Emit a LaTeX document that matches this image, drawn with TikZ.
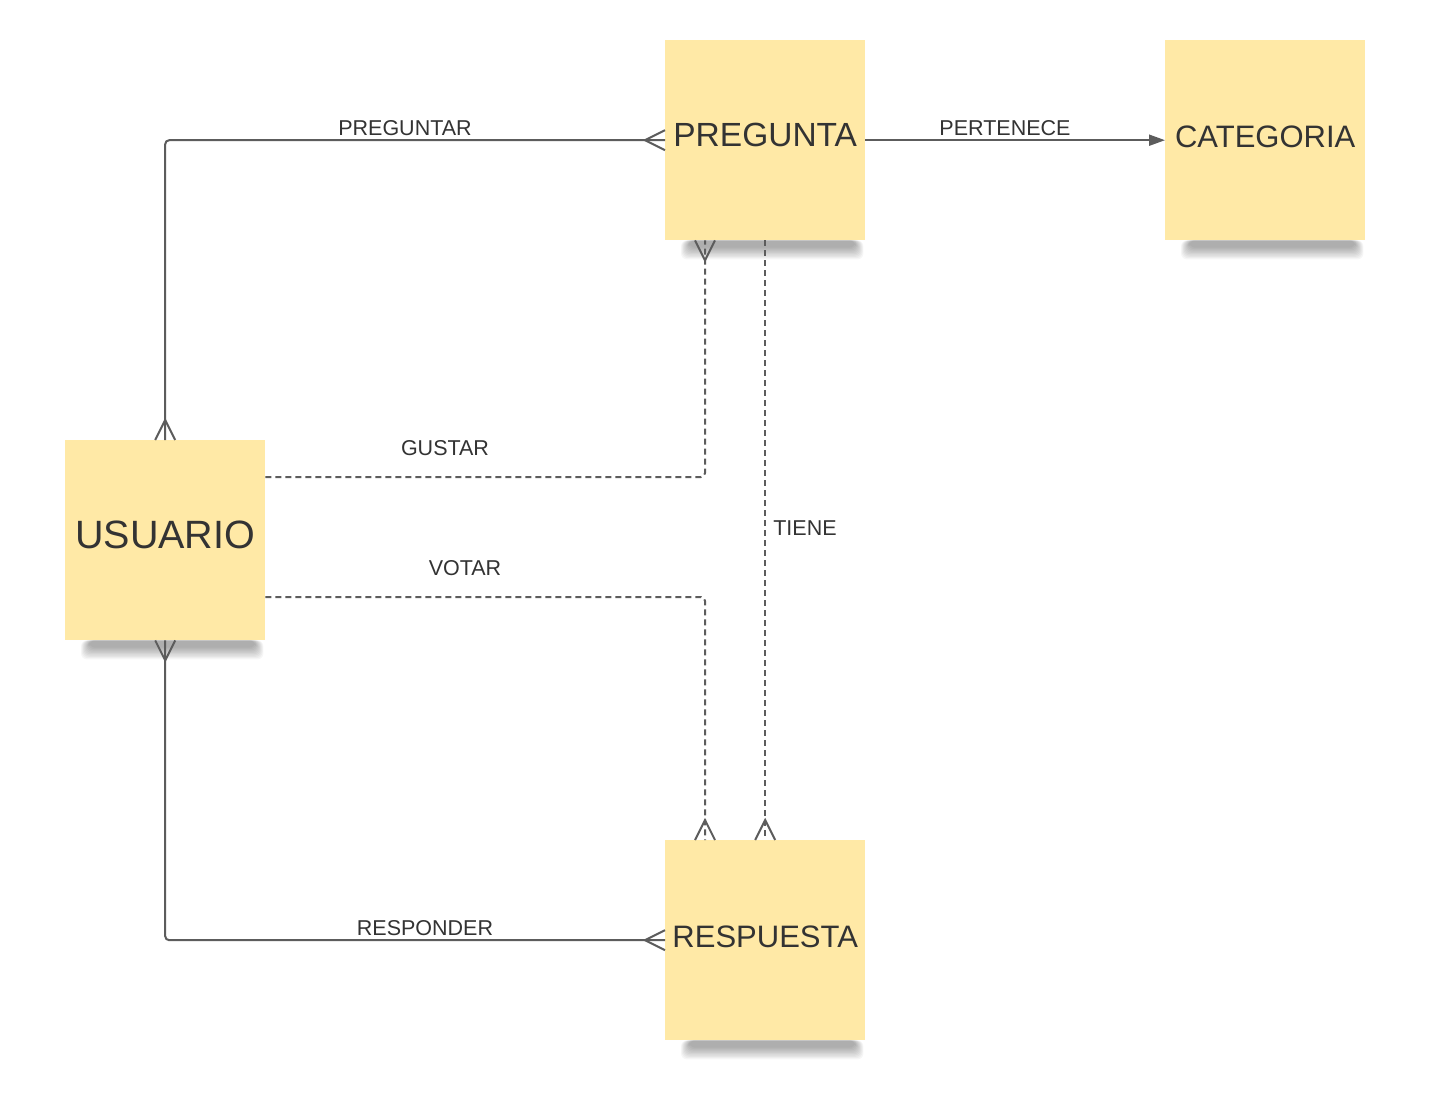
\documentclass[tikz,border=0pt]{standalone}
\usepackage{fontspec}
\setmainfont{Liberation Sans}
\usetikzlibrary{calc,arrows.meta}
\definecolor{sticky}{HTML}{FFE9A6}
\definecolor{linec}{HTML}{5C5C5C}
\definecolor{txt}{HTML}{333333}
\tikzset{
  entity/.style={fill=sticky, minimum width=200pt, minimum height=200pt, inner sep=0pt, text=txt, anchor=north west},
  etext/.style={text=txt, inner sep=0pt},
  conn/.style={draw=linec, line width=2pt, rounded corners=4pt},
  dconn/.style={conn, dash pattern=on 6pt off 4pt},
  foot/.style={draw=linec, line width=2pt, line join=miter},
  lbl/.style={text=txt, font=\fontsize{21.5}{23}\selectfont, inner sep=0pt}
}
\newcommand{\shadowunder}[1]{%
  \foreach \i in {0,...,9}{
    \fill[black, opacity=0.035, rounded corners=6pt] ($(#1.south west)+(16+\i*0.9,0)$) rectangle ($(#1.south east)+(-2-\i*0.9,19-\i*1.3)$);
  }}
\begin{document}
\begin{tikzpicture}[x=1pt,y=-1pt]
\useasboundingbox[fill=white] (0,0) rectangle (1430,1105);
% boxes
\node[entity] (preg) at (665,40) {};
\node[entity] (cat) at (1165,40) {};
\node[entity] (usu) at (65,440) {};
\node[entity] (resp) at (665,840) {};
% shadows then boxes redrawn on top
\shadowunder{preg}
\shadowunder{cat}
\shadowunder{usu}
\shadowunder{resp}
\fill[sticky] (preg.north west) rectangle (preg.south east);
\fill[sticky] (cat.north west) rectangle (cat.south east);
\fill[sticky] (usu.north west) rectangle (usu.south east);
\fill[sticky] (resp.north west) rectangle (resp.south east);
% entity texts
\node[etext, font=\fontsize{33.5}{36}\selectfont] (tpreg) at ($(preg.center)+(0,-5)$) {PREGUNTA};
\node[etext, font=\fontsize{31}{34}\selectfont] (tcat) at ($(cat.center)+(0,-3)$) {CATEGORIA};
\node[etext, font=\fontsize{39.5}{42}\selectfont] (tusu) at ($(usu.center)+(0,-5)$) {USUARIO};
\node[etext, font=\fontsize{31}{34}\selectfont] (tresp) at ($(resp.center)+(0,-3)$) {RESPUESTA};

% PREGUNTAR
\draw[conn] (preg.west) -| (usu.north);
\draw[foot] ($(preg.west)+(0,-10)$) -- ($(preg.west)+(-20,0)$) -- ($(preg.west)+(0,10)$);
\draw[foot] ($(usu.north)+(-10,0)$) -- ($(usu.north)+(0,-20)$) -- ($(usu.north)+(10,0)$);
\node[lbl] (l1) at (405,128) {PREGUNTAR};

% PERTENECE
\draw[conn, -{Triangle[length=16pt,width=11pt]}] (preg.east) -- (cat.west);
\node[lbl] (l2) at (1005,128) {PERTENECE};

% GUSTAR
\coordinate (gA) at ($(usu.north east)+(0,37)$);
\coordinate (gB) at ($(preg.south west)+(40,0)$);
\draw[dconn] (gA) -| (gB);
\draw[foot] ($(gB)+(-10,0)$) -- ($(gB)+(0,20)$) -- ($(gB)+(10,0)$);
\node[lbl] (l3) at (445,448) {GUSTAR};

% VOTAR
\coordinate (vA) at ($(usu.north east)+(0,157)$);
\coordinate (vB) at ($(resp.north west)+(40,0)$);
\draw[dconn] (vA) -| (vB);
\draw[foot] ($(vB)+(-10,0)$) -- ($(vB)+(0,-20)$) -- ($(vB)+(10,0)$);
\node[lbl] (l4) at (465,568) {VOTAR};

% TIENE
\draw[dconn] (preg.south) -- (resp.north);
\draw[foot] ($(resp.north)+(-10,0)$) -- ($(resp.north)+(0,-20)$) -- ($(resp.north)+(10,0)$);
\node[lbl] (l5) at (805,528) {TIENE};

% RESPONDER
\draw[conn] (resp.west) -| (usu.south);
\draw[foot] ($(resp.west)+(0,-10)$) -- ($(resp.west)+(-20,0)$) -- ($(resp.west)+(0,10)$);
\draw[foot] ($(usu.south)+(-10,0)$) -- ($(usu.south)+(0,20)$) -- ($(usu.south)+(10,0)$);
\node[lbl] (l6) at (425,928) {RESPONDER};
\end{tikzpicture}
\end{document}
